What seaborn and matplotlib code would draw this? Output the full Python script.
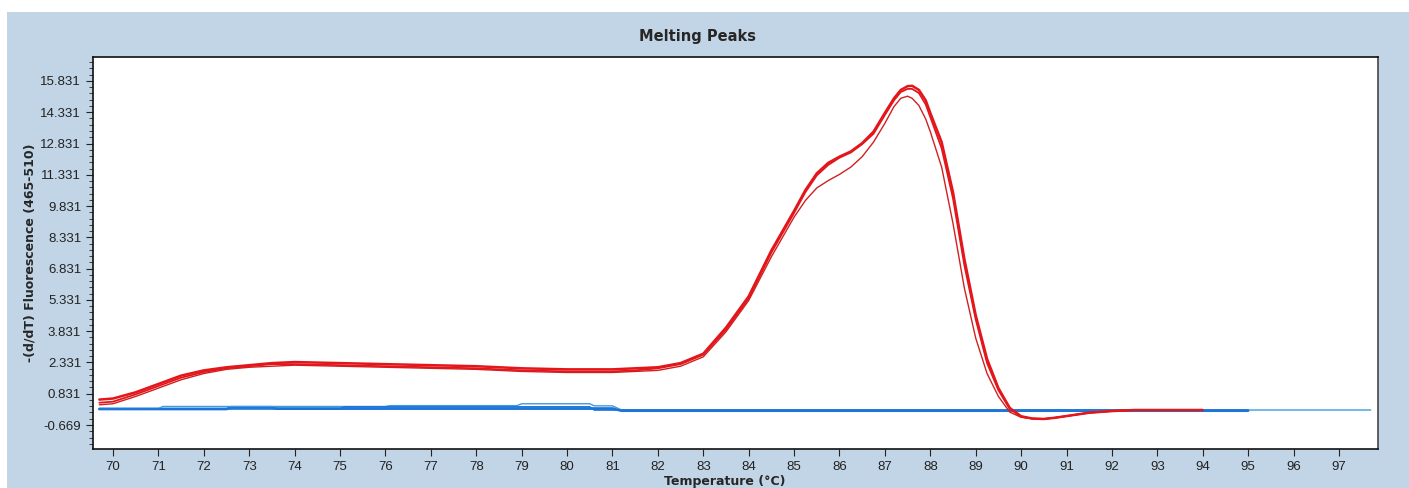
import numpy as np
import pandas as pd
import seaborn as sns
import matplotlib.pyplot as plt
from matplotlib.patches import Rectangle
from matplotlib.ticker import FixedLocator

# red sample curves
temp_red = [69.7, 70, 70.5, 71, 71.5, 72, 72.5, 73, 73.5, 74, 75, 76, 77, 78, 79, 80, 81,
            81.5, 82, 82.5, 83, 83.5, 84, 84.5, 85, 85.25, 85.5, 85.75, 86, 86.25, 86.5,
            86.75, 87, 87.2, 87.35, 87.5, 87.6, 87.75, 87.9, 88, 88.25, 88.5, 88.75, 89, 89.25, 89.5,
            89.75, 90, 90.25, 90.5, 90.75, 91, 91.5, 92, 92.5, 93, 93.5, 94]
red_a = [0.55, 0.6, 0.9, 1.3, 1.7, 1.95, 2.1, 2.2, 2.3, 2.35, 2.3, 2.25, 2.2, 2.15, 2.05, 2.0, 2.0,
         2.05, 2.1, 2.3, 2.75, 4.0, 5.5, 7.7, 9.6, 10.6, 11.4, 11.9, 12.2, 12.45, 12.85,
         13.4, 14.3, 15.0, 15.4, 15.58, 15.6, 15.4, 14.9, 14.3, 12.9, 10.5, 7.3, 4.6, 2.5, 1.1,
         0.15, -0.25, -0.36, -0.38, -0.32, -0.24, -0.08, 0.0, 0.05, 0.05, 0.05, 0.05]
red_b = [0.4, 0.45, 0.8, 1.2, 1.6, 1.87, 2.05, 2.15, 2.25, 2.25, 2.2, 2.15, 2.1, 2.05, 1.95, 1.9, 1.9,
         1.95, 2.05, 2.25, 2.7, 3.9, 5.4, 7.6, 9.5, 10.5, 11.3, 11.8, 12.15, 12.4, 12.8,
         13.3, 14.2, 14.9, 15.3, 15.45, 15.45, 15.25, 14.7, 14.1, 12.6, 10.2, 7.0, 4.4, 2.3, 1.0,
         0.1, -0.27, -0.36, -0.38, -0.32, -0.24, -0.08, 0.0, 0.05, 0.05, 0.05, 0.05]
red_c = [0.3, 0.35, 0.7, 1.1, 1.5, 1.8, 2.0, 2.1, 2.15, 2.2, 2.15, 2.1, 2.05, 2.0, 1.9, 1.85, 1.85,
         1.9, 1.95, 2.15, 2.6, 3.8, 5.3, 7.4, 9.3, 10.1, 10.7, 11.05, 11.35, 11.7, 12.2,
         12.9, 13.8, 14.6, 15.0, 15.1, 15.0, 14.65, 14.0, 13.4, 11.7, 9.0, 5.9, 3.5, 1.8, 0.7,
         -0.05, -0.3, -0.37, -0.38, -0.32, -0.24, -0.08, 0.0, 0.05, 0.05, 0.05, 0.05]

# blue control curves
temp_blue_a = [69.7, 72.5, 72.6, 73.5, 73.6, 81.0, 81.2, 95.0]
blue_a = [0.1, 0.1, 0.18, 0.18, 0.12, 0.12, 0.02, 0.02]
temp_blue_b = [69.7, 71.0, 71.1, 76.0, 76.1, 78.9, 79.0, 80.5, 80.6, 81.0, 81.2, 97.7]
blue_b = [0.12, 0.12, 0.22, 0.22, 0.26, 0.26, 0.35, 0.35, 0.25, 0.25, 0.05, 0.05]
temp_blue_c = [69.7, 75.0, 75.1, 80.5, 80.6, 95.0]
blue_c = [0.1, 0.1, 0.2, 0.2, 0.05, 0.05]

x_ticks = list(range(70, 98))
y_ticks = [-0.669, 0.831, 2.331, 3.831, 5.331, 6.831, 8.331, 9.831, 11.331, 12.831, 14.331, 15.831]

frames = []
for name, t, v in [("A", temp_red, red_a), ("B", temp_red, red_b), ("C", temp_red, red_c),
                   ("D", temp_blue_a, blue_a), ("E", temp_blue_b, blue_b), ("F", temp_blue_c, blue_c)]:
    frames.append(pd.DataFrame({"temp": t, "value": v, "curve": name}))
df = pd.concat(frames, ignore_index=True)

palette = {"A": "#e3161b", "B": "#e3161b", "C": "#d02020",
           "D": "#1c74d8", "E": "#3d9be0", "F": "#1c74d8"}
widths = {"A": 1.8, "B": 1.3, "C": 1.0, "D": 2.0, "E": 1.0, "F": 1.2}

sns.set_style("white")
plt.rcParams['font.family'] = ['Liberation Sans', 'DejaVu Sans']

fig = plt.figure(figsize=(14.09, 4.88), dpi=100)
fig.patch.set_facecolor("white")
fig.patches.append(Rectangle((7 / 1409, 0), 1, 1 - 12 / 488, transform=fig.transFigure,
                             facecolor="#c2d5e6", edgecolor="none", zorder=-10))
ax = fig.add_axes([93 / 1409, 1 - 449 / 488, 1285 / 1409, 392 / 488])
ax.set_facecolor("white")

order = ["D", "E", "F", "C", "B", "A"]
for c in order:
    sns.lineplot(data=df[df["curve"] == c], x="temp", y="value", color=palette[c],
                 lw=widths[c], estimator=None, sort=False, ax=ax)

ax.set_xlim(69.56, 97.86)
ax.set_ylim(-1.82, 16.98)
ax.xaxis.set_major_locator(FixedLocator(x_ticks))
ax.yaxis.set_major_locator(FixedLocator(y_ticks))
ax.yaxis.set_minor_locator(FixedLocator(np.arange(-1.569, 16.9, 0.3)))
ax.set_yticklabels([f"{v:.3f}" for v in y_ticks])
ax.tick_params(axis="both", which="major", direction="out", length=5, width=0.8,
               labelsize=9.5, colors="#222222", left=True, bottom=True)
ax.tick_params(axis="y", which="minor", direction="out", length=3, width=0.6, left=True)
ax.set_xlabel("")
ax.set_ylabel("")
for s in ax.spines.values():
    s.set_color("#111111")
    s.set_linewidth(1.2)
ax.spines["right"].set_color("#444444")

fig.text(0.495, 1 - 37 / 488, "Melting Peaks", ha="center", va="center",
         fontsize=10.5, fontweight="bold", family="DejaVu Sans")
fig.text(725 / 1409, 1 - 481 / 488, "Temperature (°C)", ha="center", va="center",
         fontsize=9, fontweight="bold", family="DejaVu Sans")
fig.text(30 / 1409, 1 - 253 / 488, "-(d/dT) Fluorescence (465-510)", ha="center", va="center",
         rotation=90, fontsize=9, fontweight="bold", family="DejaVu Sans")

fig.savefig("out.png", dpi=100)
